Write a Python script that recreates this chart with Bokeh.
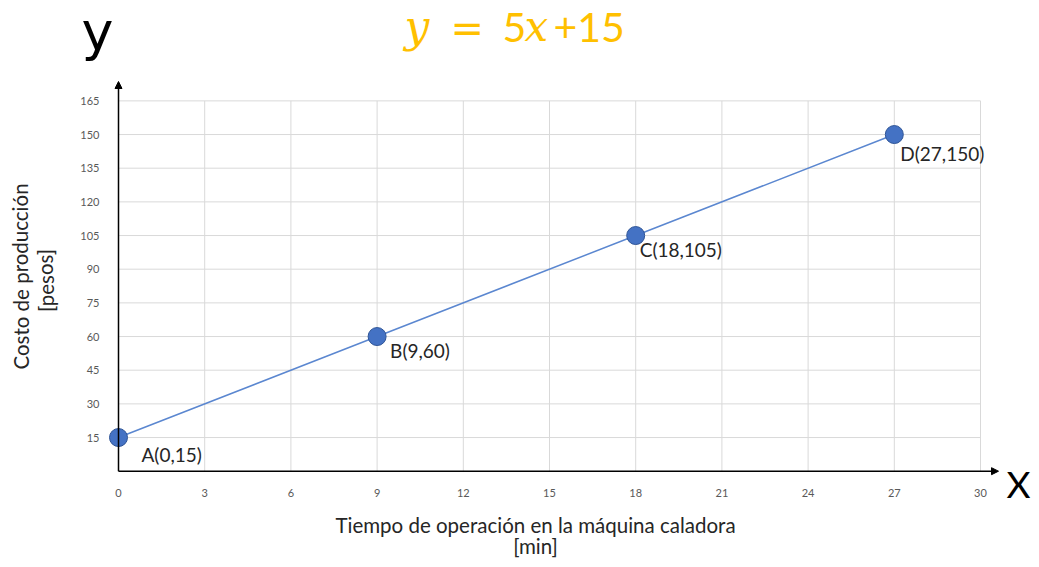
from bokeh.plotting import figure
from bokeh.models import Range1d, FixedTicker, Arrow, NormalHead, Label, LabelSet, ColumnDataSource
from bokeh.core.properties import value
from bokeh.embed import file_html
from bokeh.resources import INLINE

# ---- data ----
point_names = ["A", "B", "C", "D"]
x_values = [0, 9, 18, 27]
y_values = [15, 60, 105, 150]
x_ticks = [0, 3, 6, 9, 12, 15, 18, 21, 24, 27, 30]
y_ticks = [15, 30, 45, 60, 75, 90, 105, 120, 135, 150, 165]
x_title = ["Tiempo de operación en la máquina caladora", "[min]"]
y_title = ["Costo de producción", "[pesos]"]
equation = ["y", "=", "5", "x", "+15"]

# ---- styling / layout (pixels) ----
FONT = "Lato"
W, H = 1031, 559
PX0, PY0 = 118.0, 470.7          # pixel position of the origin
SX = 862.0 / 30.0                # pixels per x unit
SY = 303.0 / 135.0               # pixels per y unit
label_dx = [23, 13, 4, 6]        # point-label offsets in pixels
label_dy = [-17, -14, -14, -19]
BASE_FIX = 0.37                  # alphabetic-baseline correction (em)


def dx(px):
    return (px - PX0) / SX


def dy(py):
    return (PY0 - py) / SY


p = figure(width=W, height=H, output_backend="svg", toolbar_location=None,
           x_range=Range1d(dx(0), dx(W)), y_range=Range1d(dy(H), dy(0)),
           min_border=0)
p.outline_line_color = None
p.xgrid.grid_line_color = None
p.ygrid.grid_line_color = None

for ax, ticks in ((p.xaxis, x_ticks), (p.yaxis, y_ticks)):
    ax.ticker = FixedTicker(ticks=ticks)
    ax.fixed_location = 0
    ax.axis_line_color = None
    ax.major_tick_line_color = None
    ax.minor_tick_line_color = None
    ax.major_label_text_font = FONT
    ax.major_label_text_font_size = "11px"
    ax.major_label_text_color = "#595959"
p.xaxis.major_label_standoff = 12
p.yaxis.major_label_standoff = 13

# gridlines
p.segment(x0=x_ticks, y0=[0] * len(x_ticks), x1=x_ticks, y1=[y_ticks[-1]] * len(x_ticks),
          line_color="#d9d9d9", line_width=1)
p.segment(x0=[0] * len(y_ticks), y0=y_ticks, x1=[x_ticks[-1]] * len(y_ticks), y1=y_ticks,
          line_color="#d9d9d9", line_width=1)

# axes with arrows
p.add_layout(Arrow(end=NormalHead(size=7, fill_color="black", line_color="black"),
                   x_start=0, y_start=0, x_end=dx(998), y_end=0, line_color="black", line_width=1.5))
p.add_layout(Arrow(end=NormalHead(size=7, fill_color="black", line_color="black"),
                   x_start=0, y_start=0, x_end=0, y_end=dy(81), line_color="black", line_width=1.5))

# series
p.line(x_values, y_values, line_color="#5b87d0", line_width=1.5)
p.scatter(x_values, y_values, size=18, fill_color="#4472c4", line_color="#2f5597", line_width=1)

src = ColumnDataSource(dict(x=x_values, y=y_values, dx=label_dx, dy=label_dy,
                            t=[f"{n}({x},{y})" for n, x, y in zip(point_names, x_values, y_values)]))
p.add_layout(LabelSet(x="x", y="y", text="t", source=src, x_offset="dx", y_offset="dy",
                      text_font=value(FONT), text_font_size="19px", text_color="#262626",
                      text_baseline="middle", text_align="left"))

# axis titles
TITLE_COLOR = "#262626"
TSIZE = "20.5px"
p.add_layout(Label(x=dx(535), y=dy(524), text=x_title[0], text_align="center",
                   text_baseline="middle", text_font=FONT, text_font_size=TSIZE, text_color=TITLE_COLOR))
p.add_layout(Label(x=dx(535), y=dy(545), text=x_title[1], text_align="center",
                   text_baseline="middle", text_font=FONT, text_font_size=TSIZE, text_color=TITLE_COLOR))
p.add_layout(Label(x=dx(20), y=dy(276), text=y_title[0], angle=1.5708,
                   text_align="center", text_baseline="middle", text_font=FONT,
                   text_font_size=TSIZE, text_color=TITLE_COLOR))
p.add_layout(Label(x=dx(45), y=dy(280), text=y_title[1], angle=1.5708,
                   text_align="center", text_baseline="middle", text_font=FONT,
                   text_font_size=TSIZE, text_color=TITLE_COLOR))

# big axis letters
p.add_layout(Label(x=dx(97), y=dy(51 - BASE_FIX * 54), text="y", text_align="center",
                   text_baseline="alphabetic", text_font="DejaVu Sans", text_font_size="54px",
                   text_color="black"))
p.add_layout(Label(x=dx(1030), y=dy(497 - BASE_FIX * 37), text="X", text_align="right",
                   text_baseline="alphabetic", text_font=FONT, text_font_size="37px", text_color="black"))

# equation title
ORANGE = "#ffc000"
eq_left_px = [404, 450, 502, 524, 553]
eq_fonts = ["DejaVu Serif", "DejaVu Sans", FONT, "DejaVu Serif", FONT]
eq_sizes = [44, 40, 41, 42, 41]
for txt, px, fnt, sz in zip(equation, eq_left_px, eq_fonts, eq_sizes):
    italic = txt in ("x", "y")
    p.add_layout(Label(x=dx(px), y=dy(42 - BASE_FIX * sz), text=txt, text_align="left",
                       text_baseline="alphabetic", text_font=fnt,
                       text_font_style="italic" if italic else "normal",
                       text_font_size=f"{sz}px", text_color=ORANGE))

open("out.html", "w").write(file_html(p, INLINE))
